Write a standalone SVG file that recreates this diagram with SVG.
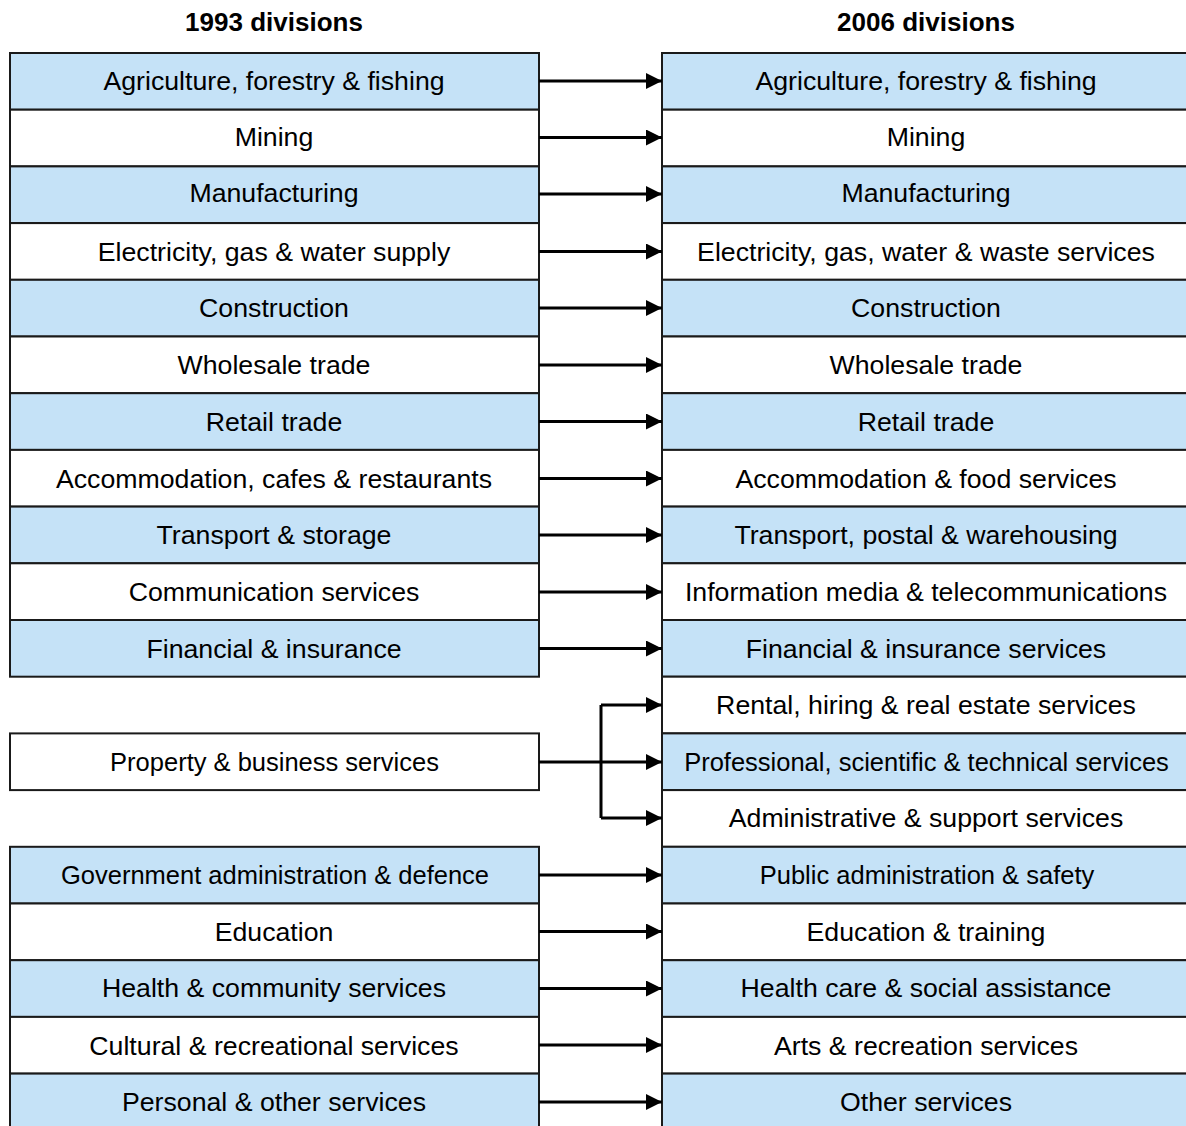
<svg xmlns="http://www.w3.org/2000/svg" width="1186" height="1126" viewBox="0 0 1186 1126">
<style>
.b{fill:#C5E2F7;stroke:#1a1a1a;stroke-width:2}
.w{fill:#FFFFFF;stroke:#1a1a1a;stroke-width:2}
text{font-family:"Liberation Sans",Arial,sans-serif;font-size:26.7px;fill:#000;text-anchor:middle}
.h{font-weight:bold;font-size:26px}
.s{font-size:25.5px}
.c{fill:none;stroke:#000;stroke-width:3}
</style>
<defs>
<marker id="ah" markerWidth="16" markerHeight="16" refX="16" refY="8" orient="auto" markerUnits="userSpaceOnUse">
<path d="M0,0 L16,8 L0,16 Z" fill="#000"/>
</marker>
</defs>
<rect width="1186" height="1126" fill="#fff"/>
<text class="h" x="274" y="31">1993 divisions</text>
<text class="h" x="926" y="31">2006 divisions</text>

<g id="left">
<g id="l1"><rect class="b" x="10" y="53" width="529" height="56.7"/><text x="274" y="89.5">Agriculture, forestry &amp; fishing</text></g>
<g id="l2"><rect class="w" x="10" y="109.7" width="529" height="56.7"/><text x="274" y="146">Mining</text></g>
<g id="l3"><rect class="b" x="10" y="166.4" width="529" height="56.7"/><text x="274" y="202">Manufacturing</text></g>
<g id="l4"><rect class="w" x="10" y="223.1" width="529" height="56.7"/><text x="274" y="260.5">Electricity, gas &amp; water supply</text></g>
<g id="l5"><rect class="b" x="10" y="279.8" width="529" height="56.7"/><text x="274" y="316.5">Construction</text></g>
<g id="l6"><rect class="w" x="10" y="336.5" width="529" height="56.7"/><text x="274" y="373.5">Wholesale trade</text></g>
<g id="l7"><rect class="b" x="10" y="393.2" width="529" height="56.7"/><text x="274" y="430.5">Retail trade</text></g>
<g id="l8"><rect class="w" x="10" y="449.9" width="529" height="56.7"/><text x="274" y="487.5">Accommodation, cafes &amp; restaurants</text></g>
<g id="l9"><rect class="b" x="10" y="506.6" width="529" height="56.7"/><text x="274" y="543.5">Transport &amp; storage</text></g>
<g id="l10"><rect class="w" x="10" y="563.3" width="529" height="56.7"/><text x="274" y="600.5">Communication services</text></g>
<g id="l11"><rect class="b" x="10" y="620" width="529" height="56.7"/><text x="274" y="657.5">Financial &amp; insurance</text></g>
<g id="l12"><rect class="w" x="10" y="733.4" width="529" height="56.7"/><text class="s" x="274.5" y="770.5">Property &amp; business services</text></g>
<g id="l13"><rect class="b" x="10" y="846.8" width="529" height="56.7"/><text class="s" x="275" y="883.5">Government administration &amp; defence</text></g>
<g id="l14"><rect class="w" x="10" y="903.5" width="529" height="56.7"/><text x="274" y="940.5">Education</text></g>
<g id="l15"><rect class="b" x="10" y="960.2" width="529" height="56.7"/><text x="274" y="997">Health &amp; community services</text></g>
<g id="l16"><rect class="w" x="10" y="1016.9" width="529" height="56.7"/><text x="274" y="1054.5">Cultural &amp; recreational services</text></g>
<g id="l17"><rect class="b" x="10" y="1073.6" width="529" height="56.7"/><text x="274" y="1110.5">Personal &amp; other services</text></g>
</g>

<g id="right">
<g id="r1"><rect class="b" x="662" y="53" width="529" height="56.7"/><text x="926" y="89.5">Agriculture, forestry &amp; fishing</text></g>
<g id="r2"><rect class="w" x="662" y="109.7" width="529" height="56.7"/><text x="926" y="146">Mining</text></g>
<g id="r3"><rect class="b" x="662" y="166.4" width="529" height="56.7"/><text x="926" y="202">Manufacturing</text></g>
<g id="r4"><rect class="w" x="662" y="223.1" width="529" height="56.7"/><text x="926" y="260.5">Electricity, gas, water &amp; waste services</text></g>
<g id="r5"><rect class="b" x="662" y="279.8" width="529" height="56.7"/><text x="926" y="316.5">Construction</text></g>
<g id="r6"><rect class="w" x="662" y="336.5" width="529" height="56.7"/><text x="926" y="373.5">Wholesale trade</text></g>
<g id="r7"><rect class="b" x="662" y="393.2" width="529" height="56.7"/><text x="926" y="430.5">Retail trade</text></g>
<g id="r8"><rect class="w" x="662" y="449.9" width="529" height="56.7"/><text x="926" y="487.5">Accommodation &amp; food services</text></g>
<g id="r9"><rect class="b" x="662" y="506.6" width="529" height="56.7"/><text x="926" y="543.5">Transport, postal &amp; warehousing</text></g>
<g id="r10"><rect class="w" x="662" y="563.3" width="529" height="56.7"/><text x="926" y="600.5">Information media &amp; telecommunications</text></g>
<g id="r11"><rect class="b" x="662" y="620" width="529" height="56.7"/><text x="926" y="657.5">Financial &amp; insurance services</text></g>
<g id="r12"><rect class="w" x="662" y="676.7" width="529" height="56.7"/><text x="926" y="713.5">Rental, hiring &amp; real estate services</text></g>
<g id="r13"><rect class="b" x="662" y="733.4" width="529" height="56.7"/><text class="s" x="926.5" y="770.5">Professional, scientific &amp; technical services</text></g>
<g id="r14"><rect class="w" x="662" y="790.1" width="529" height="56.7"/><text x="926" y="826.5">Administrative &amp; support services</text></g>
<g id="r15"><rect class="b" x="662" y="846.8" width="529" height="56.7"/><text class="s" x="927" y="883.5">Public administration &amp; safety</text></g>
<g id="r16"><rect class="w" x="662" y="903.5" width="529" height="56.7"/><text x="926" y="940.5">Education &amp; training</text></g>
<g id="r17"><rect class="b" x="662" y="960.2" width="529" height="56.7"/><text x="926" y="997">Health care &amp; social assistance</text></g>
<g id="r18"><rect class="w" x="662" y="1016.9" width="529" height="56.7"/><text x="926" y="1054.5">Arts &amp; recreation services</text></g>
<g id="r19"><rect class="b" x="662" y="1073.6" width="529" height="56.7"/><text x="926" y="1110.5">Other services</text></g>
</g>

<g id="connectors">
<path class="c" marker-end="url(#ah)" d="M539,81 H662"/>
<path class="c" marker-end="url(#ah)" d="M539,137.5 H662"/>
<path class="c" marker-end="url(#ah)" d="M539,194 H662"/>
<path class="c" marker-end="url(#ah)" d="M539,251.5 H662"/>
<path class="c" marker-end="url(#ah)" d="M539,308 H662"/>
<path class="c" marker-end="url(#ah)" d="M539,365 H662"/>
<path class="c" marker-end="url(#ah)" d="M539,421.5 H662"/>
<path class="c" marker-end="url(#ah)" d="M539,478.5 H662"/>
<path class="c" marker-end="url(#ah)" d="M539,535 H662"/>
<path class="c" marker-end="url(#ah)" d="M539,592 H662"/>
<path class="c" marker-end="url(#ah)" d="M539,648.5 H662"/>
<path class="c" d="M539,762 H601 M601,705 V818"/>
<path class="c" marker-end="url(#ah)" d="M601,705 H662"/>
<path class="c" marker-end="url(#ah)" d="M601,762 H662"/>
<path class="c" marker-end="url(#ah)" d="M601,818 H662"/>
<path class="c" marker-end="url(#ah)" d="M539,875 H662"/>
<path class="c" marker-end="url(#ah)" d="M539,931.5 H662"/>
<path class="c" marker-end="url(#ah)" d="M539,988.5 H662"/>
<path class="c" marker-end="url(#ah)" d="M539,1045 H662"/>
<path class="c" marker-end="url(#ah)" d="M539,1102 H662"/>
</g>
</svg>
